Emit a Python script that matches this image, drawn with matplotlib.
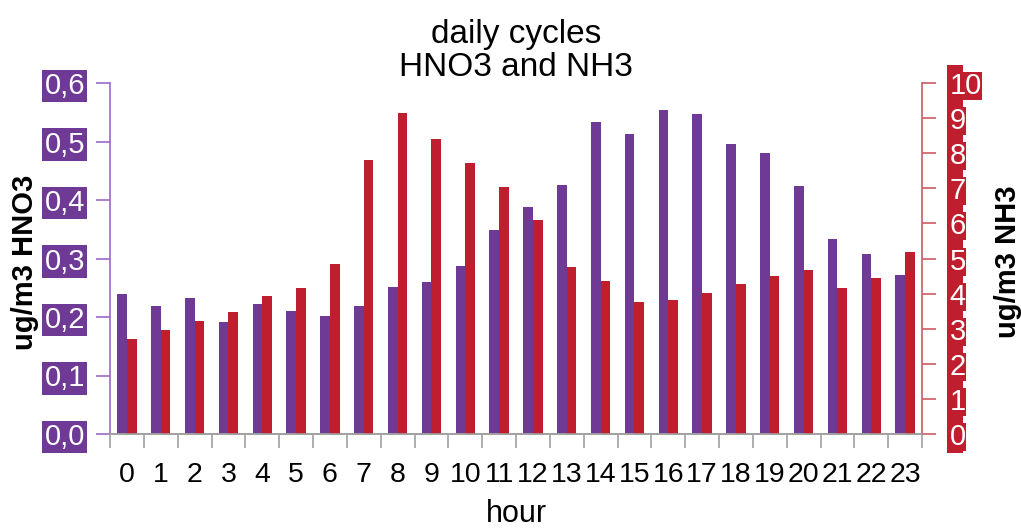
import matplotlib.pyplot as plt
import matplotlib.patches as patches
import numpy as np

plt.rcParams['font.family'] = ['Liberation Sans', 'DejaVu Sans']

hours = list(range(24))
hno3 = [0.240, 0.219, 0.232, 0.191, 0.222, 0.210, 0.202, 0.219, 0.251, 0.260, 0.288, 0.349,
        0.388, 0.426, 0.533, 0.513, 0.554, 0.547, 0.495, 0.480, 0.424, 0.334, 0.307, 0.271]
nh3 = [2.71, 2.97, 3.22, 3.48, 3.94, 4.15, 4.83, 7.81, 9.14, 8.40, 7.73, 7.05,
       6.11, 4.75, 4.37, 3.77, 3.82, 4.03, 4.28, 4.49, 4.66, 4.15, 4.45, 5.18]
hno3_ticks = [0.0, 0.1, 0.2, 0.3, 0.4, 0.5, 0.6]
hno3_ticklabels = ['0,0', '0,1', '0,2', '0,3', '0,4', '0,5', '0,6']
nh3_ticks = list(range(11))

purple = '#6F3996'
red = '#BE1E2D'

W, H = 1021, 530
fig = plt.figure(figsize=(W / 100, H / 100), dpi=100)
ax = fig.add_axes([110 / W, (H - 434) / H, 812 / W, 351 / H])
ax2 = ax.twinx()

x = np.arange(len(hours))
w = 0.287
ax.bar(x - w / 2, hno3, width=w, color=purple, zorder=2)
ax2.bar(x + w / 2, nh3, width=w, color=red, zorder=2)

ax.set_xlim(-0.5, 23.5)
ax.set_ylim(0, 0.6)
ax2.set_ylim(0, 10)

# x axis: boundary ticks, labels at centres
ax.set_xticks(np.arange(-0.5, 24, 1))
ax.set_xticklabels([])
ax.set_xticks(x, minor=True)
ax.set_xticklabels([str(h) for h in hours], minor=True, fontsize=20.5)
ax.tick_params(axis='x', which='major', length=10, color='#A0A0A0', width=1.2)
ax.tick_params(axis='x', which='minor', length=0, pad=20)

# left axis
ax.set_yticks(hno3_ticks)
ax.set_yticklabels(hno3_ticklabels, fontsize=21, color='white')
ax.tick_params(axis='y', length=10, color='#9A6AC4', width=1.2, pad=8)
for lab in ax.get_yticklabels():
    lab.set_bbox(dict(boxstyle='square,pad=0.08', facecolor=purple, edgecolor='none'))

# right axis
ax2.set_yticks(nh3_ticks)
ax2.set_yticklabels([str(t) for t in nh3_ticks], fontsize=21, color='white')
ax2.tick_params(axis='y', length=10, color='#D05A64', width=1.2, pad=10)
for lab in ax2.get_yticklabels():
    lab.set_bbox(dict(boxstyle='square,pad=0.0', facecolor=red, edgecolor='none'))
fig.add_artist(patches.Rectangle((947 / W, (H - 453) / H), 16 / W, 388 / H,
                                 transform=fig.transFigure, facecolor=red,
                                 edgecolor='none', zorder=-1))

for a in (ax, ax2):
    a.spines['top'].set_visible(False)
    a.spines['bottom'].set_color('#A0A0A0')
    a.spines['bottom'].set_linewidth(1.2)
ax.spines['right'].set_visible(False)
ax2.spines['left'].set_visible(False)
ax.spines['left'].set_color('#9A6AC4')
ax.spines['left'].set_linewidth(1.2)
ax2.spines['right'].set_color('#D05A64')
ax2.spines['right'].set_linewidth(1.2)

ax.set_title('daily cycles\nHNO3 and NH3', fontsize=24, pad=4, linespacing=1.1)
ax.set_xlabel('hour', fontsize=22, labelpad=8)
ax.set_ylabel('ug/m3 HNO3', fontsize=21, fontweight='bold')
ax.yaxis.set_label_coords(-0.105, 0.49)
ax.yaxis.label.set_va('center')
ax2.set_ylabel('ug/m3 NH3', fontsize=21, fontweight='bold', rotation=90)
ax2.yaxis.set_label_coords(1.106, 0.49)
ax2.yaxis.label.set_va('center')

fig.savefig('out.png', dpi=100)
